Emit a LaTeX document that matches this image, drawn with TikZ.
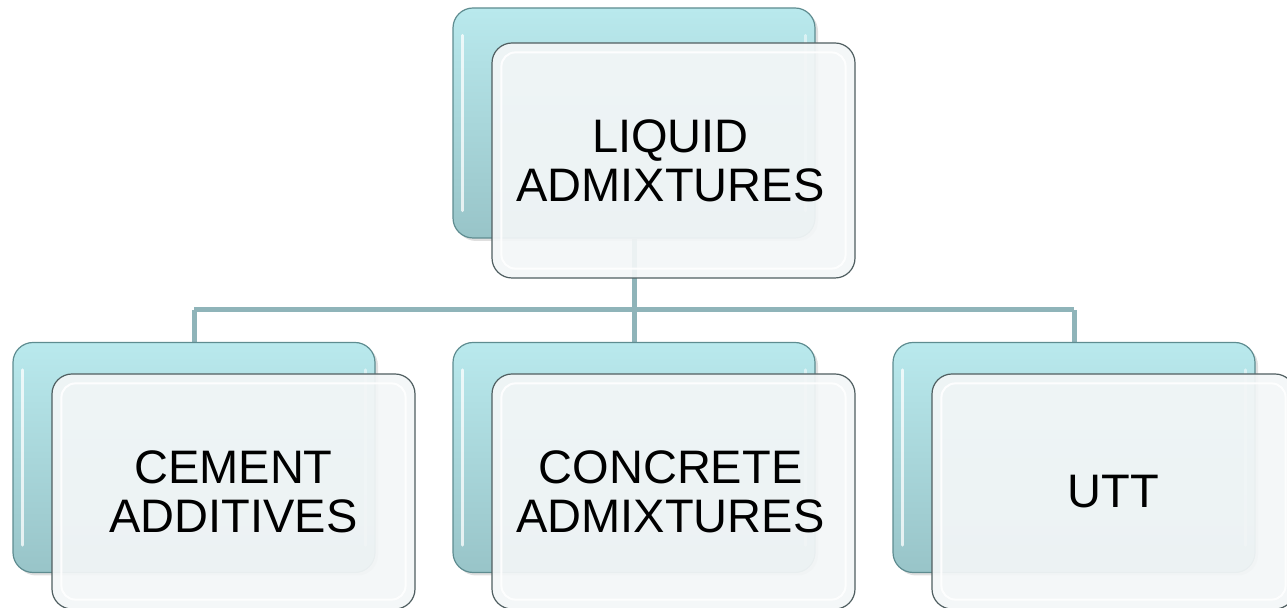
\documentclass[tikz,border=0pt]{standalone}
\usepackage{fontspec}
\setmainfont{Liberation Sans}
\usetikzlibrary{shadows}
\pgfdeclarelayer{background}
\pgfsetlayers{background,main}
\definecolor{connc}{HTML}{8FB4B9}
\definecolor{backtop}{HTML}{B9E9ED}
\definecolor{backbot}{HTML}{98C4C8}
\definecolor{backedge}{HTML}{5E8C90}
\definecolor{frontfill}{HTML}{F3F6F7}
\definecolor{frontedge}{HTML}{4F5E60}
\tikzset{
 backbox/.style={draw=backedge, line width=0.6pt, rounded corners=10pt,
   minimum width=181pt, minimum height=115pt, top color=backtop, bottom color=backbot,
   inner sep=0pt, drop shadow={opacity=0.25, shadow xshift=1.5pt, shadow yshift=-1.5pt}},
 frontbox/.style={draw=frontedge, line width=0.6pt, rounded corners=10pt,
   minimum width=181.5pt, minimum height=117.5pt, fill=frontfill, fill opacity=0.93,
   text opacity=1, align=center, font=\fontsize{23.5}{24.5}\selectfont, inner sep=0pt},
 conn/.style={draw=connc, line width=2.5pt},
 shine/.style={draw=white, opacity=0.75, line width=1.5pt, line cap=round},
 inner/.style={draw=white, opacity=0.9, line width=1pt, rounded corners=7pt},
}
\newcommand{\boxpair}[5]{%
  \node[backbox] (#1b) at (#2) {};
  \draw[shine] ([shift={(5pt,-14pt)}]#1b.north west) -- ([shift={(5pt,14pt)}]#1b.south west);
  \draw[shine, opacity=0.5] ([shift={(-5pt,-14pt)}]#1b.north east) -- ([shift={(-5pt,14pt)}]#1b.south east);
  \node[frontbox] (#1f) at (#3) {};
  \draw[inner] ([shift={(5pt,-5pt)}]#1f.north west) rectangle ([shift={(-5pt,5pt)}]#1f.south east);
  \node[frontbox, fill=none, draw=none] (#1t) at ([xshift=#5]#1f.center) {#4};
}
\begin{document}
\begin{tikzpicture}[x=0.5pt,y=-0.5pt]
\useasboundingbox (0,0) rectangle (1287,608);
\boxpair{t}{634,123}{673.5,160.5}{LIQUID\\ADMIXTURES}{-1.5pt}
\boxpair{l}{194,457.5}{233.5,491.5}{CEMENT\\ADDITIVES}{0pt}
\boxpair{m}{634,457.5}{673.5,491.5}{CONCRETE\\ADMIXTURES}{-1.5pt}
\boxpair{r}{1074,457.5}{1113.5,491.5}{UTT}{0pt}
\coordinate (bus) at (634,310);
\begin{pgfonlayer}{background}
\draw[conn] (tb.south) -- (tb.south |- bus);
\draw[conn] (lb.north |- bus) -- (rb.north |- bus);
\draw[conn] (lb.north |- bus) -- (lb.north);
\draw[conn] (mb.north |- bus) -- (mb.north);
\draw[conn] (rb.north |- bus) -- (rb.north);
\end{pgfonlayer}
\end{tikzpicture}
\end{document}
